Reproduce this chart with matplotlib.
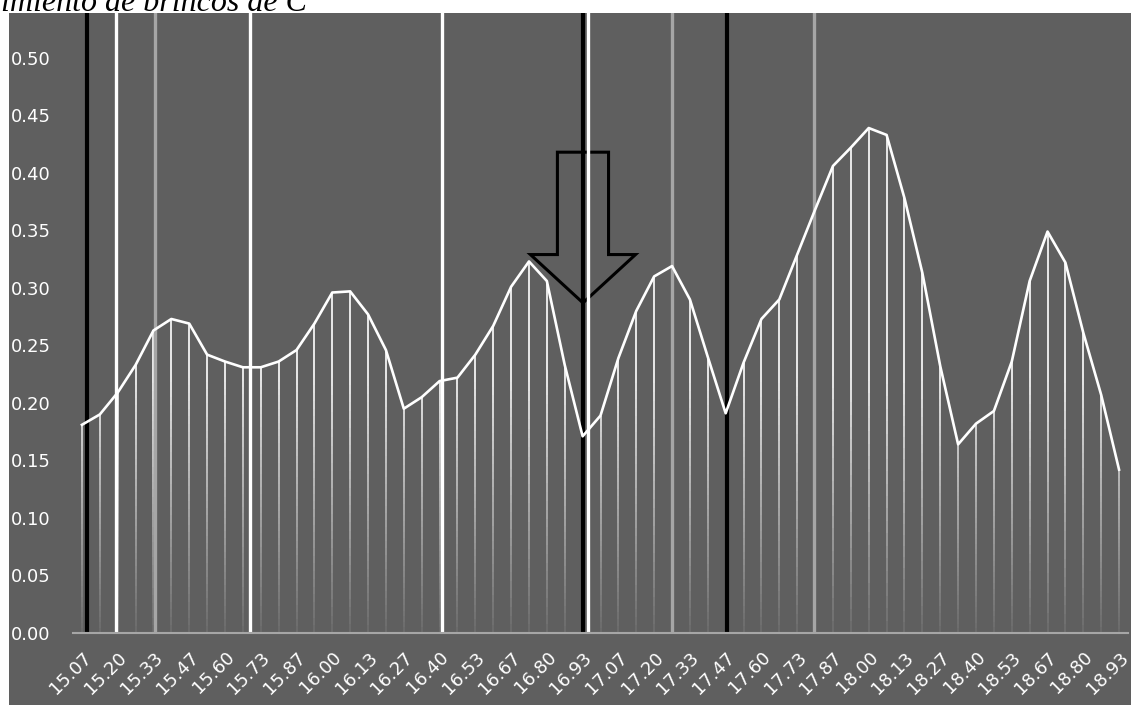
import numpy as np
import matplotlib
matplotlib.use('Agg')
import matplotlib.pyplot as plt
from matplotlib.collections import LineCollection
from matplotlib.patches import Polygon, Rectangle

# tiempo (categorias) y valores
times = [15 + (k + 1) / 15 for k in range(59)]
values = [0.181, 0.190, 0.209, 0.233, 0.263, 0.273, 0.269, 0.242, 0.236, 0.231,
          0.231, 0.236, 0.246, 0.269, 0.296, 0.297, 0.277, 0.246, 0.195, 0.205,
          0.219, 0.222, 0.242, 0.267, 0.301, 0.323, 0.306, 0.233, 0.171, 0.189,
          0.239, 0.280, 0.310, 0.319, 0.290, 0.240, 0.191, 0.235, 0.273, 0.290,
          0.329, 0.368, 0.406, 0.422, 0.439, 0.433, 0.378, 0.313, 0.232, 0.164,
          0.182, 0.193, 0.236, 0.306, 0.349, 0.322, 0.261, 0.207, 0.142]

# marcas verticales (tiempo, color)
event_times = [15.084, 15.193, 15.339, 15.695, 16.409, 16.936, 16.952, 17.268, 17.473, 17.796]
event_colors = ['black', 'white', '#a6a6a6', 'white', 'white', 'black', 'white', '#a6a6a6', 'black', '#a6a6a6']

bg = '#5f5f5f'
W, H = 1131, 705

fig = plt.figure(figsize=(W / 100, H / 100), dpi=100, facecolor='white')
fig.patches.append(Rectangle((9 / W, 0), 1, (H - 13) / H, transform=fig.transFigure,
                             facecolor=bg, edgecolor='none', zorder=-5))
ax = fig.add_axes([73 / W, (H - 633) / H, (1128 - 73) / W, (633 - 13) / H])
ax.set_facecolor(bg)
ax.set_zorder(2)

x = np.arange(len(values))
t0, dt = times[0], times[1] - times[0]

def to_pos(t):
    return (t - t0) / dt

# flecha
tip_x = 28.02
arrow = Polygon([(tip_x - 1.43, 0.418), (tip_x + 1.43, 0.418), (tip_x + 1.43, 0.329),
                 (tip_x + 2.94, 0.329), (tip_x, 0.287), (tip_x - 2.94, 0.329),
                 (tip_x - 1.43, 0.329)], closed=True, fill=False,
                edgecolor='black', linewidth=2.2, zorder=2, joinstyle='miter')
ax.add_patch(arrow)

# lineas de caida con degradado
segs, cols = [], []
for xi, v in zip(x, values):
    ys = np.linspace(0, v, 41)
    for a, b in zip(ys[:-1], ys[1:]):
        segs.append([(xi, a), (xi, b)])
        al = min(1.0, (0.5 * (a + b)) / 0.22)
        cols.append((1, 1, 1, 0.08 + 0.92 * al))
ax.add_collection(LineCollection(segs, colors=cols, linewidths=1.2, capstyle='butt', zorder=3))

# marcas verticales
for t, c in zip(event_times, event_colors):
    lw = 3.0 if c == 'black' else 2.4
    ax.axvline(to_pos(t), color=c, linewidth=lw, zorder=4)

ax.plot(x, values, color='white', linewidth=1.9, zorder=5)

ax.set_xlim(-0.5, len(values) - 0.5)
ax.set_ylim(0, 0.539)
ax.set_yticks(np.arange(0, 0.501, 0.05))
ax.set_yticklabels([f'{v:.2f}' for v in np.arange(0, 0.501, 0.05)], color='white', fontsize=13)
ax.set_xticks(x[::2])
ax.set_xticklabels([f'{t:.2f}' for t in times[::2]], rotation=45, ha='right', va='top',
                   rotation_mode='anchor', color='white', fontsize=13)
ax.tick_params(axis='y', length=0, pad=16)
ax.tick_params(axis='x', length=0, pad=11)
for s in ['top', 'right', 'left']:
    ax.spines[s].set_visible(False)
ax.spines['bottom'].set_color('#a6a6a6')
ax.spines['bottom'].set_linewidth(1.5)
ax.spines['bottom'].set_zorder(6)

fig.text(1 / W, 1 - 11 / H, 'imiento de brincos de C', family='Liberation Serif',
         style='italic', fontsize=23, color='black', ha='left', va='baseline')

fig.savefig('out.png', dpi=100, facecolor='white')
